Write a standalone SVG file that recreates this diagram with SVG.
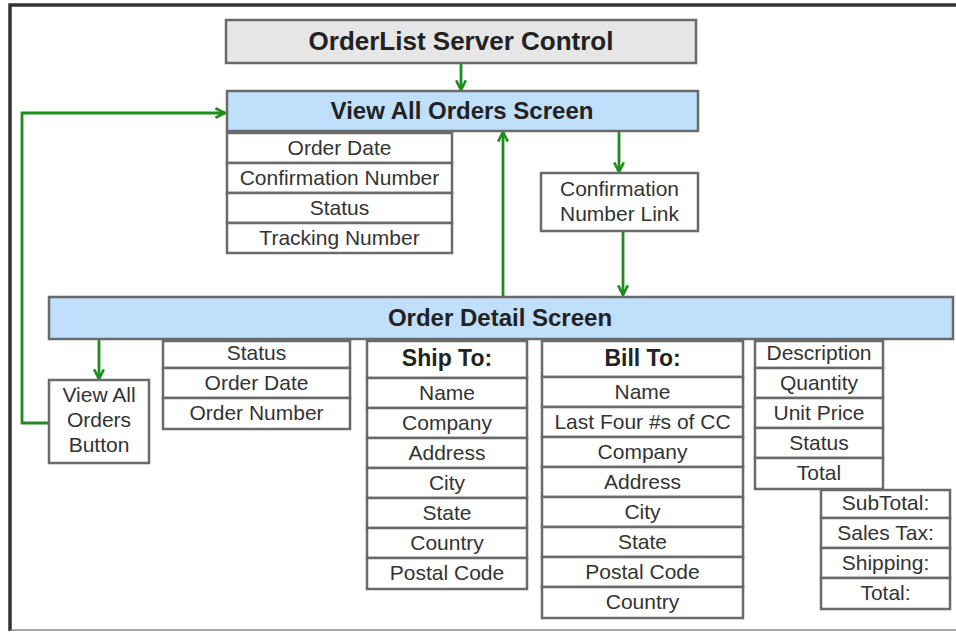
<svg xmlns="http://www.w3.org/2000/svg" width="956" height="632" viewBox="0 0 956 632">
<defs>
<marker id="arr" viewBox="0 0 10 10" refX="9" refY="5" markerWidth="12" markerHeight="12" markerUnits="userSpaceOnUse" orient="auto">
<path d="M1,1 L9,5 L1,9" fill="none" stroke="#1e8c1e" stroke-width="2.2"/>
</marker>
<style>
.box{fill:#ffffff;stroke:#6a6a6a;stroke-width:2.5}
.grey{fill:#e6e6e6;stroke:#6a6a6a;stroke-width:2.5}
.blue{fill:#c0dffb;stroke:#6a6a6a;stroke-width:2.5}
.t{font-family:"Liberation Sans",Arial,sans-serif;font-size:21px;fill:#333;text-anchor:middle}
.b{font-family:"Liberation Sans",Arial,sans-serif;font-size:24px;font-weight:bold;fill:#222;text-anchor:middle}
.c{fill:none;stroke:#1e8c1e;stroke-width:2.8;marker-end:url(#arr)}
</style>
</defs>
<rect x="0" y="0" width="956" height="632" fill="#ffffff"/>
<path d="M10,631 V5 H956" fill="none" stroke="#333" stroke-width="3.5"/>
<line x1="10" y1="630" x2="956" y2="630" stroke="#888" stroke-width="1.5"/>

<g id="connectors">
<path class="c" d="M461,63 V90"/>
<path class="c" d="M49,423 H22 V113 H225"/>
<path class="c" d="M619,131 V172"/>
<path class="c" d="M623,231 V295"/>
<path class="c" d="M503,297 V132"/>
<path class="c" d="M99,339 V379"/>
</g>

<g id="orderlist-server-control">
<rect class="grey" x="226" y="20" width="470" height="43"/>
<text class="b" x="461" y="50" style="font-size:26px">OrderList Server Control</text>
</g>

<g id="view-all-orders-screen">
<rect class="blue" x="227" y="91" width="471" height="40"/>
<text class="b" x="462" y="119">View All Orders Screen</text>
</g>

<g id="view-all-fields">
<rect class="box" x="227" y="133" width="225" height="30"/>
<rect class="box" x="227" y="163" width="225" height="30"/>
<rect class="box" x="227" y="193" width="225" height="30"/>
<rect class="box" x="227" y="223" width="225" height="30"/>
<text class="t" x="339.5" y="155">Order Date</text>
<text class="t" x="339.5" y="185">Confirmation Number</text>
<text class="t" x="339.5" y="215">Status</text>
<text class="t" x="339.5" y="245">Tracking Number</text>
</g>

<g id="confirmation-number-link">
<rect class="box" x="541" y="173" width="157" height="58"/>
<text class="t" x="619.5" y="196">Confirmation</text>
<text class="t" x="619.5" y="221">Number Link</text>
</g>

<g id="order-detail-screen">
<rect class="blue" x="49" y="297" width="904" height="42"/>
<text class="b" x="500" y="326">Order Detail Screen</text>
</g>

<g id="view-all-orders-button">
<rect class="box" x="49" y="380" width="100" height="83"/>
<text class="t" x="99" y="402">View All</text>
<text class="t" x="99" y="427">Orders</text>
<text class="t" x="99" y="452">Button</text>
</g>

<g id="order-fields">
<rect class="box" x="163" y="341" width="187" height="27"/>
<rect class="box" x="163" y="368" width="187" height="30"/>
<rect class="box" x="163" y="398" width="187" height="31"/>
<text class="t" x="256.5" y="360">Status</text>
<text class="t" x="256.5" y="390">Order Date</text>
<text class="t" x="256.5" y="420">Order Number</text>
</g>

<g id="ship-to">
<rect class="box" x="367" y="341" width="160" height="37"/>
<rect class="box" x="367" y="378" width="160" height="30"/>
<rect class="box" x="367" y="408" width="160" height="30"/>
<rect class="box" x="367" y="438" width="160" height="30"/>
<rect class="box" x="367" y="468" width="160" height="30"/>
<rect class="box" x="367" y="498" width="160" height="30"/>
<rect class="box" x="367" y="528" width="160" height="30"/>
<rect class="box" x="367" y="558" width="160" height="31"/>
<text class="b" x="447" y="366" style="font-size:23px">Ship To:</text>
<text class="t" x="447" y="400">Name</text>
<text class="t" x="447" y="430">Company</text>
<text class="t" x="447" y="460">Address</text>
<text class="t" x="447" y="490">City</text>
<text class="t" x="447" y="520">State</text>
<text class="t" x="447" y="550">Country</text>
<text class="t" x="447" y="580">Postal Code</text>
</g>

<g id="bill-to">
<rect class="box" x="542" y="341" width="201" height="36"/>
<rect class="box" x="542" y="377" width="201" height="30"/>
<rect class="box" x="542" y="407" width="201" height="30"/>
<rect class="box" x="542" y="437" width="201" height="30"/>
<rect class="box" x="542" y="467" width="201" height="30"/>
<rect class="box" x="542" y="497" width="201" height="30"/>
<rect class="box" x="542" y="527" width="201" height="30"/>
<rect class="box" x="542" y="557" width="201" height="30"/>
<rect class="box" x="542" y="587" width="201" height="31"/>
<text class="b" x="642.5" y="366" style="font-size:23px">Bill To:</text>
<text class="t" x="642.5" y="399">Name</text>
<text class="t" x="642.5" y="429">Last Four #s of CC</text>
<text class="t" x="642.5" y="459">Company</text>
<text class="t" x="642.5" y="489">Address</text>
<text class="t" x="642.5" y="519">City</text>
<text class="t" x="642.5" y="549">State</text>
<text class="t" x="642.5" y="579">Postal Code</text>
<text class="t" x="642.5" y="609">Country</text>
</g>

<g id="line-items">
<rect class="box" x="755" y="341" width="128" height="27"/>
<rect class="box" x="755" y="368" width="128" height="30"/>
<rect class="box" x="755" y="398" width="128" height="30"/>
<rect class="box" x="755" y="428" width="128" height="30"/>
<rect class="box" x="755" y="458" width="128" height="31"/>
<text class="t" x="819" y="360">Description</text>
<text class="t" x="819" y="390">Quantity</text>
<text class="t" x="819" y="420">Unit Price</text>
<text class="t" x="819" y="450">Status</text>
<text class="t" x="819" y="480">Total</text>
</g>

<g id="totals">
<rect class="box" x="821" y="490" width="129" height="28"/>
<rect class="box" x="821" y="518" width="129" height="30"/>
<rect class="box" x="821" y="548" width="129" height="30"/>
<rect class="box" x="821" y="578" width="129" height="31"/>
<text class="t" x="885.5" y="510">SubTotal:</text>
<text class="t" x="885.5" y="540">Sales Tax:</text>
<text class="t" x="885.5" y="570">Shipping:</text>
<text class="t" x="885.5" y="600">Total:</text>
</g>
</svg>
